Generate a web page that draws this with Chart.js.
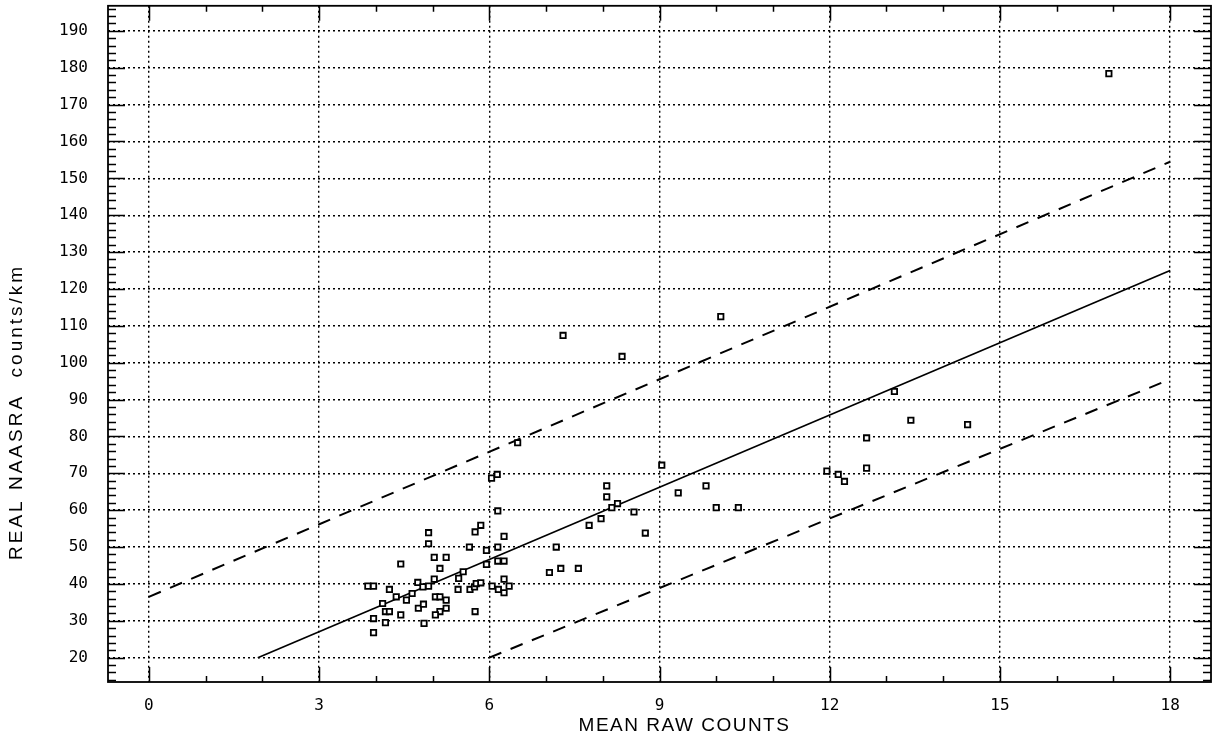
<!DOCTYPE html>
<html>
<head>
<meta charset="utf-8">
<script src="https://cdn.jsdelivr.net/npm/chart.js@4.4.1/dist/chart.umd.min.js"></script>
<style>
  html, body { margin: 0; padding: 0; background: #fff; overflow: hidden; }
  #wrap { width: 1213px; height: 746px; position: relative; }
  #c { display: block; }
</style>
</head>
<body>
<div id="wrap"><canvas id="c"></canvas></div>
<script>
// Mean raw counts per section (x) against measured NAASRA roughness (y)
const meanRaw = [
  3.86, 3.96, 3.96, 3.96, 4.12, 4.17, 4.24, 4.17, 4.24, 4.36,
  4.44, 4.44, 4.54, 4.64, 4.75, 4.84, 4.85, 4.74, 4.83, 4.93,
  4.93, 4.93, 5.03, 5.24, 5.13, 5.03, 5.05, 5.13, 5.24, 5.24,
  5.13, 5.05, 5.46, 5.54, 5.45, 5.66, 5.74, 5.77, 5.85, 5.75,
  5.65, 5.75, 5.85, 5.95, 5.95, 6.15, 6.26, 6.15, 6.26, 6.15,
  6.26, 6.35, 6.16, 6.26, 6.05, 6.04, 6.14, 6.50,
  7.06, 7.26, 7.57, 7.18, 7.76, 7.97, 8.07, 8.07, 8.16, 8.26,
  8.55, 8.75, 9.04, 9.33, 9.82, 10.00, 10.39, 7.30, 8.34, 10.08,
  11.95, 12.15, 12.26, 12.65, 12.65, 13.14, 13.43, 14.43, 16.92
];
const naasra = [
  39.4, 39.4, 30.6, 26.8, 34.7, 32.5, 32.5, 29.5, 38.5, 36.5,
  45.4, 31.6, 35.6, 37.4, 33.4, 34.5, 29.3, 40.4, 39.2, 39.4,
  53.9, 50.9, 47.2, 47.2, 44.2, 41.3, 36.5, 36.5, 35.6, 33.4,
  32.5, 31.6, 41.5, 43.3, 38.5, 38.5, 39.2, 40.1, 40.3, 32.5,
  50.0, 54.1, 55.9, 49.1, 45.3, 50.0, 52.9, 46.2, 46.2, 59.8,
  41.3, 39.4, 38.5, 37.6, 39.4, 68.7, 69.7, 78.3,
  43.1, 44.2, 44.2, 50.0, 55.9, 57.7, 66.6, 63.6, 60.7, 61.8,
  59.5, 53.8, 72.2, 64.7, 66.6, 60.7, 60.7, 107.4, 101.7, 112.5,
  70.6, 69.7, 67.8, 71.4, 79.6, 92.2, 84.4, 83.2, 178.4
];

// Fitted line and its upper / lower bands (end points)
const fitX = [1.92, 18];
const fitY = [20, 125];
const upperX = [0, 18];
const upperY = [36.5, 154.5];
const lowerX = [6, 18];
const lowerY = [20, 95.5];

// Axis ranges and tick labels
const xRange = [-0.72, 18.72];
const yRange = [13.4, 196.8];
const xTicks = [0, 3, 6, 9, 12, 15, 18];
const yTicks = [20, 30, 40, 50, 60, 70, 80, 90, 100, 110, 120, 130, 140, 150, 160, 170, 180, 190];
const xMinorStep = 1;
const yMinorStep = 2;

const xTitle = 'MEAN RAW COUNTS';
const yTitle = 'REAL NAASRA  counts/km';

const pairs = (xs, ys) => xs.map((x, i) => ({ x: x, y: ys[i] }));

// Pin the plot rectangle to its place on the page
const areaPlugin = {
  id: 'area',
  afterLayout(chart) {
    const a = chart.chartArea;
    a.right = chart.width - 2;
    a.width = a.right - a.left;
    const xs = chart.scales.x;
    xs.right = a.right;
    xs.width = a.right - xs.left;
    xs.configure();
  }
};

// Frame, inward tick marks on all four sides, and the axis titles
const framePlugin = {
  id: 'frame',
  afterDatasetsDraw(chart) {
    const ctx = chart.ctx;
    const a = chart.chartArea;
    const xs = chart.scales.x, ys = chart.scales.y;
    ctx.save();
    ctx.strokeStyle = '#000';
    ctx.lineWidth = 1.8;
    ctx.strokeRect(a.left, a.top, a.right - a.left, a.bottom - a.top);

    ctx.lineWidth = 1.5;
    ctx.beginPath();
    // y ticks, left and right edges
    for (let v = Math.ceil(yRange[0] / yMinorStep) * yMinorStep; v <= yRange[1]; v += yMinorStep) {
      const major = yTicks.includes(v);
      const len = major ? 17 : 8;
      const p = Math.round(ys.getPixelForValue(v)) + 0.5;
      ctx.moveTo(a.left, p); ctx.lineTo(a.left + len, p);
      ctx.moveTo(a.right, p); ctx.lineTo(a.right - len, p);
    }
    // x ticks, bottom and top edges
    for (let v = Math.ceil(xRange[0] / xMinorStep) * xMinorStep; v <= xRange[1]; v += xMinorStep) {
      const major = xTicks.includes(v);
      const len = major ? 15 : 6;
      const p = Math.round(xs.getPixelForValue(v)) + 0.5;
      ctx.moveTo(p, a.bottom); ctx.lineTo(p, a.bottom - len);
      ctx.moveTo(p, a.top); ctx.lineTo(p, a.top + len);
    }
    ctx.stroke();

    ctx.fillStyle = '#000';
    ctx.textAlign = 'center';
    ctx.textBaseline = 'middle';
    ctx.font = '19px "Liberation Sans", Arial, sans-serif';
    ctx.letterSpacing = '1.5px';
    ctx.fillText(xTitle, (a.left + a.right) / 2 + 25, 726);

    ctx.font = '19px "Liberation Sans", Arial, sans-serif';
    ctx.letterSpacing = '3px';
    ctx.translate(17, (a.top + a.bottom) / 2 + 68);
    ctx.rotate(-Math.PI / 2);
    ctx.fillText(yTitle, 0, 0);
    ctx.restore();
  }
};

const tickFont = { family: '"DejaVu Sans Mono", monospace', size: 16 };

new Chart(document.getElementById('c'), {
  type: 'scatter',
  data: {
    datasets: [
      {
        label: 'sections',
        data: pairs(meanRaw, naasra),
        pointStyle: 'rect',
        pointRadius: 3.8,
        borderWidth: 1.8,
        borderColor: '#000',
        backgroundColor: '#fff'
      },
      {
        type: 'line',
        label: 'fit',
        data: pairs(fitX, fitY),
        borderColor: '#000',
        borderWidth: 1.7,
        pointRadius: 0,
        fill: false
      },
      {
        type: 'line',
        label: 'upper',
        data: pairs(upperX, upperY),
        borderColor: '#000',
        borderWidth: 2,
        borderDash: [13, 10],
        pointRadius: 0,
        fill: false
      },
      {
        type: 'line',
        label: 'lower',
        data: pairs(lowerX, lowerY),
        borderColor: '#000',
        borderWidth: 2,
        borderDash: [13, 10],
        pointRadius: 0,
        fill: false
      }
    ]
  },
  options: {
    responsive: true,
    maintainAspectRatio: false,
    animation: false,
    events: [],
    layout: { padding: { left: 0, right: 0, top: 5, bottom: 0 } },
    plugins: { legend: { display: false }, tooltip: { enabled: false } },
    scales: {
      x: {
        type: 'linear',
        min: xRange[0],
        max: xRange[1],
        afterBuildTicks: s => { s.ticks = xTicks.map(v => ({ value: v })); },
        afterFit: s => { s.height = 64; s.paddingLeft = 0; s.paddingRight = 0; s.paddingTop = 0; s.paddingBottom = 0; },
        ticks: { color: '#000', font: tickFont, padding: 14, maxRotation: 0 },
        grid: { color: '#000', lineWidth: 1.4, drawTicks: false },
        border: { display: false, dash: [2, 3] }
      },
      y: {
        type: 'linear',
        min: yRange[0],
        max: yRange[1],
        afterBuildTicks: s => { s.ticks = yTicks.map(v => ({ value: v })); },
        afterFit: s => { s.width = 108; s.paddingLeft = 0; s.paddingRight = 0; s.paddingTop = 0; s.paddingBottom = 0; },
        ticks: { color: '#000', font: tickFont, padding: 20 },
        grid: { color: '#000', lineWidth: 1.4, drawTicks: false },
        border: { display: false, dash: [2, 3] }
      }
    }
  },
  plugins: [areaPlugin, framePlugin]
});
</script>
</body>
</html>
